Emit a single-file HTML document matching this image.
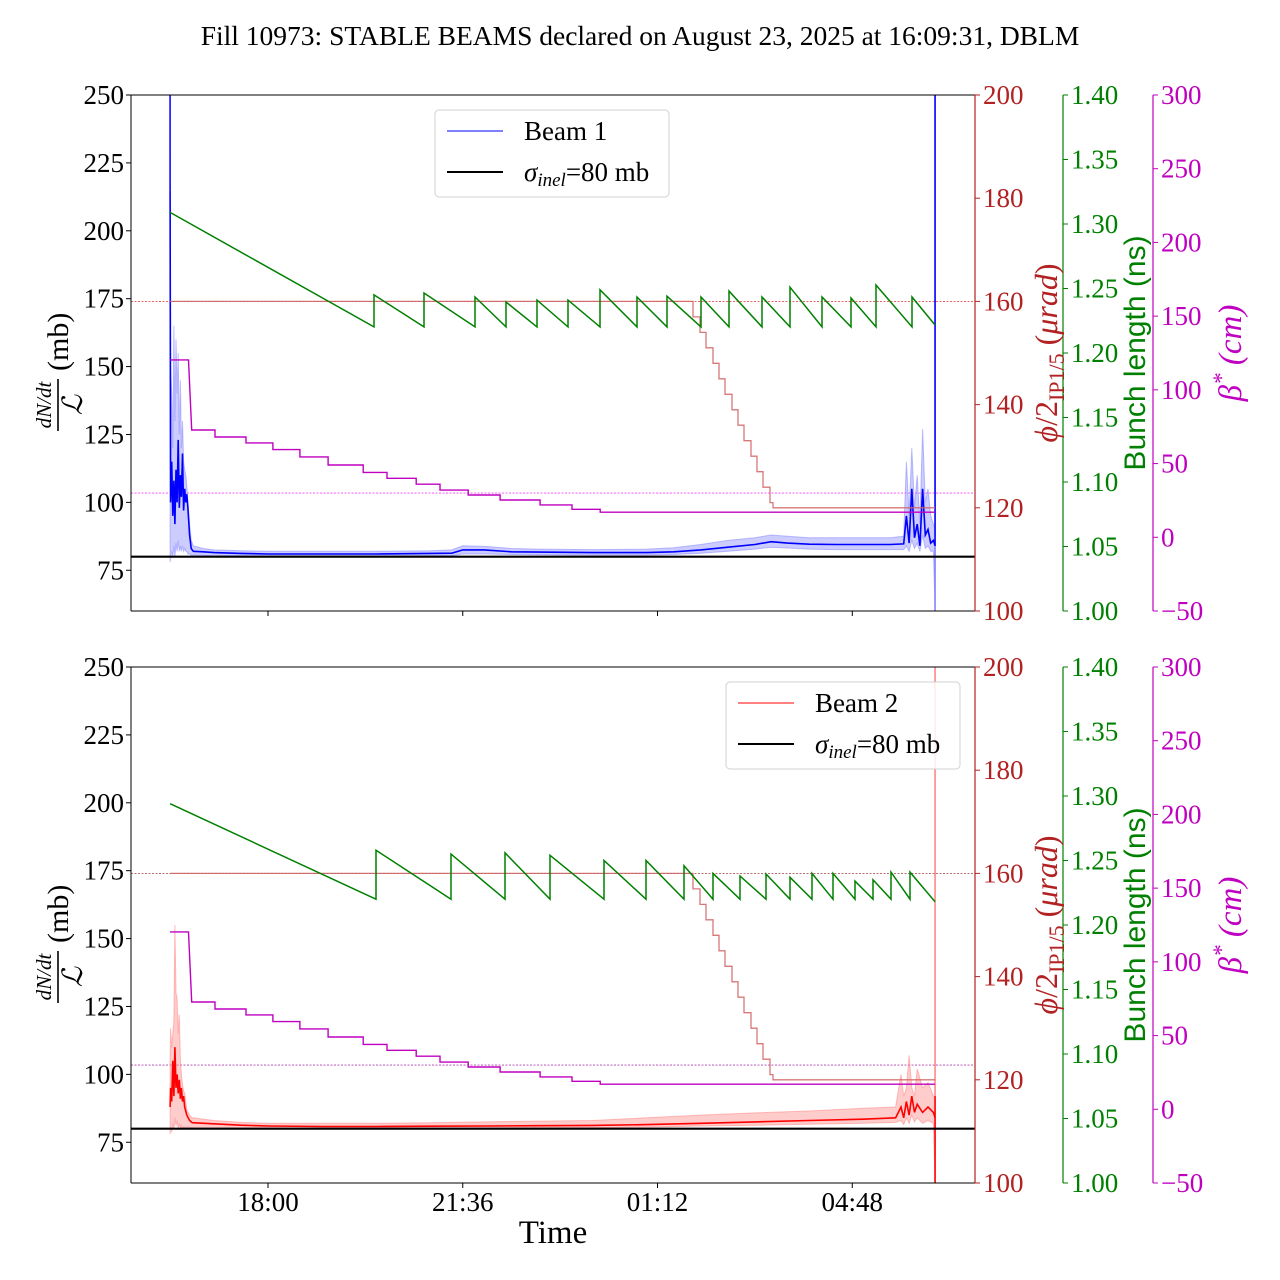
<!DOCTYPE html>
<html><head><meta charset="utf-8">
<style>
body{margin:0;background:#fff;}
svg{display:block;font-family:"Liberation Serif",serif;}
</style></head>
<body>
<svg id="chart" width="1280" height="1280" viewBox="0 0 1280 1280">
<text x="640" y="45" text-anchor="middle" font-size="27.5">Fill 10973: STABLE BEAMS declared on August 23, 2025 at 16:09:31, DBLM</text>
<text x="553" y="1243" text-anchor="middle" font-size="33">Time</text>
</svg>
<script>
// ---------- data (time in hours since 16:00 on Aug 23) ----------
const xTickHours = [2, 5.6, 9.2, 12.8];
const xTickLabels = ["18:00", "21:36", "01:12", "04:48"];
const yTicks = [75, 100, 125, 150, 175, 200, 225, 250];
const phiTicks = [100, 120, 140, 160, 180, 200];
const blTicks = [1.00, 1.05, 1.10, 1.15, 1.20, 1.25, 1.30, 1.35, 1.40];
const blTickLabels = ["1.00","1.05","1.10","1.15","1.20","1.25","1.30","1.35","1.40"];
const betaTicks = [-50, 0, 50, 100, 150, 200, 250, 300];
const sigmaInel = 80;

// Beam 1 ratio (mb)
const b1Time = [0.19,0.2,0.22,0.24,0.26,0.28,0.30,0.32,0.34,0.36,0.38,0.40,0.42,0.44,0.46,0.48,0.50,0.52,0.55,0.58,0.62,0.8,1.0,1.5,2,3,4,5,5.4,5.6,6,6.5,7,8,9,9.5,10,10.5,11,11.3,11.6,12,12.5,13,13.5,13.75,13.8,13.85,13.9,13.95,14.0,14.05,14.1,14.15,14.2,14.25,14.3,14.33];
const b1Mid = [215,100,115,95,108,92,112,100,123,98,110,102,118,97,105,100,103,98,88,83,82,81.8,81.5,81.2,81,81,81,81.2,81.3,82.5,82.5,81.8,81.7,81.5,81.5,81.8,82.5,83.5,84.5,85.5,85,84.6,84.5,84.5,84.5,84.7,95,85,105,87,92,84,105,88,90,85,86,84];
const b1Hi = [250,150,140,120,165,130,160,140,155,125,145,120,130,115,112,110,106,100,92,86,84,83,82.5,82.2,82,82,82,82.2,82.5,84,83.8,83,82.8,82.6,82.8,83.3,84.5,86,87,88,87.5,87,87,87,87,87.5,115,95,120,98,110,92,127,100,105,95,92,90];
const b1Lo = [78,80,82,80,84,80,85,82,86,82,84,82,84,82,83,82,82,81,81,80.5,80.5,80.5,80.3,80.3,80.2,80.2,80.2,80.3,80.4,81,81,80.8,80.7,80.6,80.6,80.8,81.3,82,82.8,83.5,83.2,82.8,82.6,82.6,82.6,82.6,84,82,86,83,85,82,88,83,84,82,82,60];
// Beam 2 ratio (mb)
const b2Time = [0.19,0.2,0.22,0.24,0.26,0.28,0.30,0.32,0.34,0.36,0.38,0.40,0.42,0.44,0.46,0.50,0.55,0.6,1.0,1.5,2,3,4,5,6,7,8,9,10,11,12,13,13.6,13.7,13.75,13.8,13.85,13.9,13.95,14.0,14.1,14.2,14.3,14.33];
const b2Mid = [88,95,90,105,92,110,95,100,93,98,91,95,90,92,88,85,83,82.2,81.8,81.3,81,80.8,80.8,80.9,81,81.1,81.2,81.5,82,82.5,83,83.5,84,88,84,90,85,92,86,89,86,88,86,84];
const b2Hi = [105,117,110,115,120,155,130,128,115,122,105,100,96,94,93,87,85,84,83,82.3,82,82,82,82.2,82.5,82.8,83,84,85,85.8,86.5,87.5,88,100,92,95,107,95,92,102,95,97,92,92];
const b2Lo = [78,80,79,82,80,84,81,83,80,82,80,81,80,80.5,80.5,80.5,80.5,80.3,80.3,80.2,80.1,80,80,80.1,80.2,80.3,80.4,80.6,81,81.3,81.6,82,82.3,83,81.5,84,82,85,82.5,84,82,83,82,60];

// crossing angle phi/2 (urad), steps
const phiStepTime = [0.19,9.856,9.985,10.096,10.226,10.337,10.447,10.577,10.688,10.799,10.928,11.039,11.150,11.279,11.334];
const phiStepVal = [160,157,154,151,148,145,142,139,136,133,130,127,124,121,120];
const phiRef = 160;
// beta* (cm), steps
const betaStepTime = [0.19,0.59,1.02,1.593,2.09,2.59,3.11,3.76,4.20,4.74,5.18,5.70,6.29,7.03,7.62,8.14];
const betaStepVal = [120.3,72.8,68,64,59.5,54.5,49,44,40,36,32,28.7,25.3,22,19,17];
const betaRef = 30;
const endTime = 14.33;
// bunch length (ns) sawtooth, panel 1
const bl1Start = [0.19, 1.309];
const bl1JumpTime = [3.959,4.884,5.826,6.399,6.972,7.545,8.137,8.821,9.375,10.004,10.521,11.131,11.649,12.240,12.776,13.238,13.904];
const bl1Top = [1.245,1.2465,1.2434,1.2395,1.241,1.241,1.249,1.2434,1.244,1.2434,1.248,1.2434,1.251,1.2434,1.2426,1.2527,1.2434];
const bl1Bottom = 1.2202;
const bl1End = 1.2217;
// bunch length panel 2
const bl2Start = [0.19, 1.294];
const bl2JumpTime = [3.996,5.383,6.381,7.213,8.211,8.987,9.689,10.226,10.725,11.205,11.649,12.055,12.444,12.850,13.183,13.516,13.867];
const bl2Top = [1.258,1.255,1.256,1.254,1.250,1.250,1.246,1.240,1.238,1.2395,1.237,1.240,1.240,1.234,1.235,1.241,1.241];
const bl2Bottom = 1.2200;
const bl2End = 1.218;

// ---------- drawing ----------
const NS = "http://www.w3.org/2000/svg";
const svg = document.getElementById("chart");
const L = 131, R = 975;
const X = h => 268 + (h - 2) * 54.1;
function el(tag, attrs, parent) {
  const e = document.createElementNS(NS, tag);
  for (const k in attrs) e.setAttribute(k, attrs[k]);
  (parent || svg).appendChild(e);
  return e;
}
const RED = "#b22222", GREEN = "#008000", MAG = "#c000c0";
const FS = 27;

function panel(idx, top, beam) {
  const bot = top + 516;
  const Y = v => bot - (v - 60) * 516 / 190;
  const YP = v => bot - (v - 100) * 516 / 100;
  const YB = v => bot - (v - 1.0) * 516 / 0.4;
  const YM = v => bot - (v + 50) * 516 / 350;
  const g = el("g", {});
  
  
  const clipId = "clip" + idx;
  const cp = el("clipPath", {id: clipId}, g);
  el("rect", {x: L, y: top, width: R - L, height: 516}, cp);
  const plot = el("g", {"clip-path": "url(#" + clipId + ")"}, g);
  
  

  const rl1 = el("line", {x1: L, x2: R, y1: YP(phiRef), y2: YP(phiRef), stroke: idx ? "#a04040" : "#e03030", "stroke-width": 0.8, "stroke-dasharray": "2,1.5"}, plot);
  
  
  const rl2 = el("line", {x1: L, x2: R, y1: YM(betaRef), y2: YM(betaRef), stroke: idx ? "#b040b0" : "#ff40ff", "stroke-width": 0.8, "stroke-dasharray": "2,1.5"}, plot);
  
  

  let d = "";
  beam.t.forEach((t, i) => { d += (i ? "L" : "M") + X(t).toFixed(1) + "," + Y(beam.hi[i]).toFixed(1); });
  for (let i = beam.t.length - 1; i >= 0; i--) d += "L" + X(beam.t[i]).toFixed(1) + "," + Y(beam.lo[i]).toFixed(1);
  const band = el("path", {d: d + "Z", fill: beam.light, "fill-opacity": 0.4, stroke: beam.light, "stroke-opacity": 0.5, "stroke-width": 1}, plot);
  
  
  const t0 = beam.t[0], t1 = beam.t[beam.t.length - 1];
  if (beam.n === 1) {
    const v0 = el("line", {x1: X(t0), x2: X(t0), y1: top, y2: Y(beam.mid[0]), stroke: beam.color, "stroke-width": 1.5}, plot);
    
    
  }
  const v1 = el("line", {x1: X(t1), x2: X(t1), y1: top, y2: bot, stroke: beam.light, "stroke-width": 1.5}, plot);
  
  
  if (beam.n === 1) {
    const v2 = el("line", {x1: X(t1), x2: X(t1), y1: top, y2: Y(84), stroke: beam.color, "stroke-width": 1.5}, plot);
    
    
  } else {
    const v2 = el("line", {x1: X(t1), x2: X(t1), y1: Y(92), y2: bot, stroke: beam.color, "stroke-width": 1.5}, plot);
    
    
  }
  d = "";
  beam.t.forEach((t, i) => { d += (i ? "L" : "M") + X(t).toFixed(1) + "," + Y(beam.mid[i]).toFixed(1); });
  const ml = el("path", {d: d, fill: "none", stroke: beam.color, "stroke-width": 1.6}, plot);
  
  

  const sl = el("line", {x1: L, x2: R, y1: Y(sigmaInel), y2: Y(sigmaInel), stroke: "#000", "stroke-width": 2.2}, plot);
  
  

  d = "M" + X(phiStepTime[0]) + "," + YP(phiStepVal[0]);
  for (let i = 1; i < phiStepTime.length; i++) d += "L" + X(phiStepTime[i]).toFixed(1) + "," + YP(phiStepVal[i - 1]).toFixed(1) + "L" + X(phiStepTime[i]).toFixed(1) + "," + YP(phiStepVal[i]).toFixed(1);
  d += "L" + X(endTime) + "," + YP(phiStepVal[phiStepVal.length - 1]);
  const pl = el("path", {d: d, fill: "none", stroke: "#d06060", "stroke-opacity": 0.85, "stroke-width": 1.3}, plot);
  
  

  d = "M" + X(betaStepTime[0]) + "," + YM(betaStepVal[0]);
  for (let i = 1; i < betaStepTime.length; i++) d += "L" + X(betaStepTime[i] - (i === 1 ? 0.06 : 0)).toFixed(1) + "," + YM(betaStepVal[i - 1]).toFixed(1) + "L" + X(betaStepTime[i]).toFixed(1) + "," + YM(betaStepVal[i]).toFixed(1);
  d += "L" + X(endTime) + "," + YM(betaStepVal[betaStepVal.length - 1]);
  const bl = el("path", {d: d, fill: "none", stroke: MAG, "stroke-width": 1.4}, plot);
  
  

  const bs = beam.bl;
  d = "M" + X(bs.start[0]) + "," + YB(bs.start[1]);
  bs.jt.forEach((t, i) => { d += "L" + X(t).toFixed(1) + "," + YB(bs.bottom).toFixed(1) + "L" + X(t).toFixed(1) + "," + YB(bs.top[i]).toFixed(1); });
  d += "L" + X(endTime) + "," + YB(bs.end);
  const gl = el("path", {d: d, fill: "none", stroke: GREEN, "stroke-width": 1.5}, plot);
  
  

  const fr = el("path", {d: `M${L},${bot}L${L},${top}L${R},${top}`, fill: "none", stroke: "#000", "stroke-width": 1}, g);
  
  
  el("line", {x1: L, x2: R, y1: bot, y2: bot, stroke: "#000", "stroke-width": 1}, g);

  yTicks.forEach(v => {
    el("line", {x1: L - 5, x2: L, y1: Y(v), y2: Y(v), stroke: "#000"}, g);
    const t = el("text", {x: L - 7, y: Y(v) + 9, "text-anchor": "end", "font-size": FS}, g);
    t.textContent = v;
    
    
  });
  xTickHours.forEach((h, i) => {
    el("line", {x1: X(h), x2: X(h), y1: bot, y2: bot + 5, stroke: "#000"}, g);
    if (idx === 1) {
      const t = el("text", {x: X(h), y: bot + 28, "text-anchor": "middle", "font-size": FS}, g);
      t.textContent = xTickLabels[i];
      
      
    }
  });
  function rightAxis(x, ticks, labels, Yf, color, name) {
    const ax = el("g", {}, g);
    
    
    el("line", {x1: x, x2: x, y1: top, y2: bot, stroke: color, "stroke-width": 1.2}, ax);
    ticks.forEach((v, i) => {
      el("line", {x1: x, x2: x + 5, y1: Yf(v), y2: Yf(v), stroke: color}, ax);
      const t = el("text", {x: x + 8, y: Yf(v) + 9, "font-size": FS, fill: color}, ax);
      t.textContent = labels[i];
      
      
    });
  }
  rightAxis(975, phiTicks, phiTicks.map(String), YP, RED, "phi-axis");
  rightAxis(1063, blTicks, blTickLabels, YB, GREEN, "bunch-length-axis");
  rightAxis(1153, betaTicks, betaTicks.map(v => v < 0 ? "\u2212" + (-v) : String(v)), YM, MAG, "beta-star-axis");

  const cy = top + 258;
  const yl = el("g", {transform: `translate(62,${cy}) rotate(-90)`}, g);
  
  
  const n1 = el("text", {x: -52, y: -11, "text-anchor": "middle", "font-size": 21, "font-style": "italic"}, yl);
  n1.textContent = "dN/dt";
  el("line", {x1: -78, x2: -26, y1: -4, y2: -4, stroke: "#000", "stroke-width": 1.6}, yl);
  const n2 = el("text", {x: -52, y: 20, "text-anchor": "middle", "font-size": 28, "font-style": "italic", "font-family": "DejaVu Serif, serif"}, yl);
  n2.textContent = "\u2112";
  const n3 = el("text", {x: -18, y: 6, "font-size": 30}, yl);
  n3.textContent = "(mb)";
  const pl2 = el("text", {transform: `translate(1057,${cy}) rotate(-90)`, "text-anchor": "middle", "font-size": 32, fill: RED}, g);
  pl2.innerHTML = '<tspan font-style="italic">\u03d5</tspan>/2<tspan font-size="22" dy="7">IP1/5</tspan><tspan dy="-7"> (</tspan><tspan font-style="italic">\u03bcrad</tspan>)';
  
  
  const gl2 = el("text", {transform: `translate(1145,${cy}) rotate(-90)`, "text-anchor": "middle", "font-size": 30, fill: GREEN, "font-family": "Liberation Sans, sans-serif"}, g);
  gl2.textContent = "Bunch length (ns)";
  
  
  const ml2 = el("text", {transform: `translate(1241,${cy}) rotate(-90)`, "text-anchor": "middle", "font-size": 33, fill: MAG, "font-style": "italic"}, g);
  ml2.innerHTML = '\u03b2<tspan dy="-12" font-size="23">*</tspan><tspan dy="12"> (cm)</tspan>';
  
  

  const lx = beam.legX, ly = top + 15;
  const lg = el("g", {}, g);
  
  
  el("rect", {x: lx, y: ly, width: 234, height: 87, rx: 4, fill: "#fff", "fill-opacity": 0.85, stroke: "#d0d0d0"}, lg);
  el("line", {x1: lx + 12, x2: lx + 68, y1: ly + 21, y2: ly + 21, stroke: beam.color, "stroke-width": 1}, lg);
  const lt1 = el("text", {x: lx + 89, y: ly + 30, "font-size": FS}, lg);
  lt1.textContent = "Beam " + beam.n;
  
  
  el("line", {x1: lx + 12, x2: lx + 68, y1: ly + 62, y2: ly + 62, stroke: "#000", "stroke-width": 2}, lg);
  const lt2 = el("text", {x: lx + 89, y: ly + 71, "font-size": FS}, lg);
  lt2.innerHTML = '<tspan font-style="italic">\u03c3</tspan><tspan font-style="italic" font-size="19" dy="5">inel</tspan><tspan dy="-5">=80 mb</tspan>';
  
  
}

panel(0, 95, {n: 1, t: b1Time, mid: b1Mid, hi: b1Hi, lo: b1Lo, color: "#0000ff", light: "#8080ff", legX: 435,
  bl: {start: bl1Start, jt: bl1JumpTime, top: bl1Top, bottom: bl1Bottom, end: bl1End}});
panel(1, 667, {n: 2, t: b2Time, mid: b2Mid, hi: b2Hi, lo: b2Lo, color: "#ff0000", light: "#ff8080", legX: 726,
  bl: {start: bl2Start, jt: bl2JumpTime, top: bl2Top, bottom: bl2Bottom, end: bl2End}});
</script>
</body></html>
